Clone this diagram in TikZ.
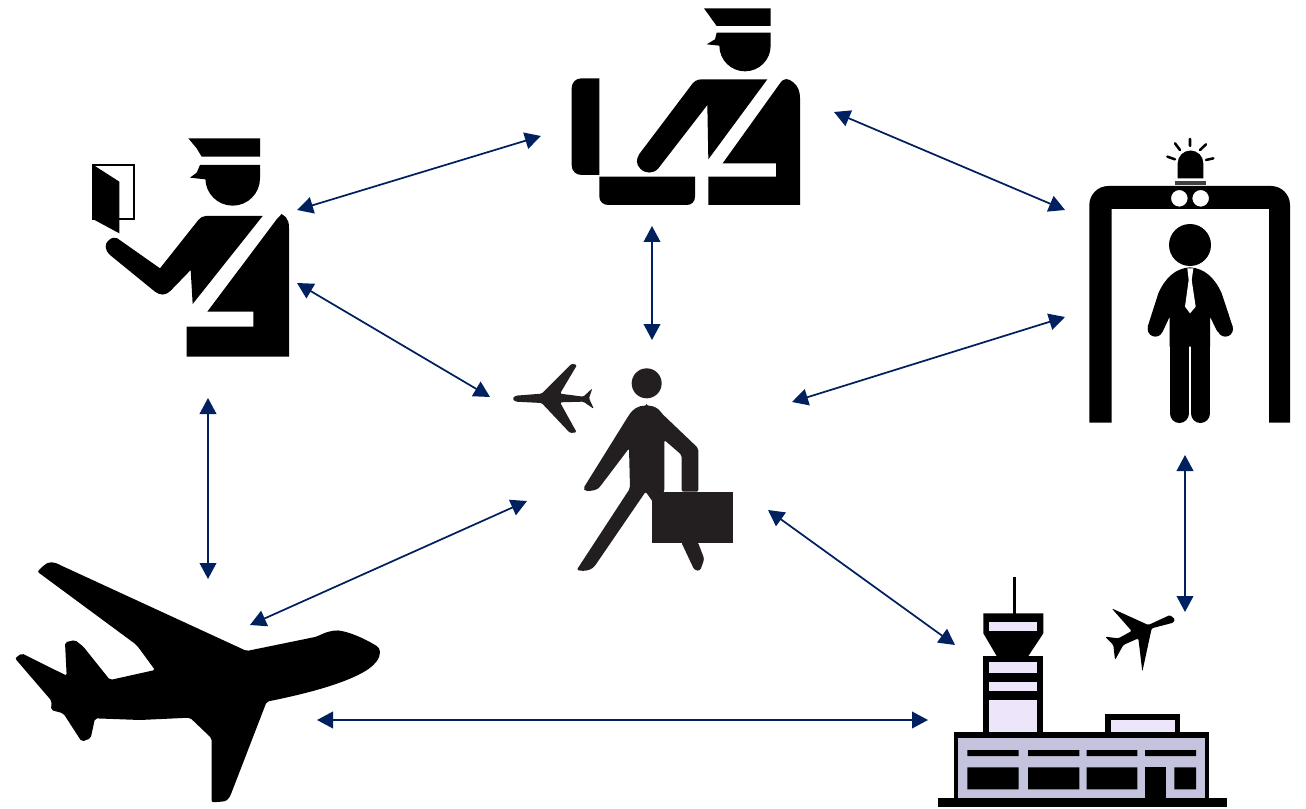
\documentclass[tikz,border=0pt]{standalone}
\usetikzlibrary{arrows.meta}
\definecolor{arrowblue}{HTML}{002060}
\definecolor{towerlight}{HTML}{EDE6FB}
\definecolor{hall}{HTML}{C3C3DD}
\definecolor{walker}{HTML}{231F20}
\tikzset{
  link/.style={arrowblue,line width=1.3pt,{Triangle[length=12pt,width=12.5pt]}-{Triangle[length=12pt,width=12.5pt]}},
  zoomed/.style={x=.25pt,y=-.25pt},
  ray/.style={draw=black,line width=1.9pt,line cap=round},
  limb/.style={draw=black,line cap=round,line join=round,line width=#1},
}
\begin{document}
\begin{tikzpicture}[x=.75pt,y=-.75pt]
\useasboundingbox (0,0) rectangle (1306,809);
% ---- officer with passport
\begin{scope}[shift={(80,130)},zoomed]
  \fill[black] (325,25)--(540,25)--(540,80)--(365,80)--(350,55)--cycle;
  \fill[black] (360,105)--(540,105)--(540,145) arc[start angle=0,end angle=-180,radius=82,y radius=-82] --(376,148)--(330,143)--(350,128)--cycle;
  \draw[black,line width=1.3pt,fill=white] (40,105) rectangle (163,267);
  \fill[black] (40,105)--(118,155)--(118,310)--(40,268)--cycle;
  \fill[black] (112,325)--(240,415)--(355,270) .. controls (362,262) and (368,258) .. (378,258)--(548,258)--(338,522)--(332,420)--(272,482) .. controls (258,497) and (240,497) .. (225,485)--(90,375) .. controls (72,358) and (75,340) .. (85,332) .. controls (95,322) and (105,321) .. (112,325)--cycle;
  \fill[black] (590,268)--(605,252)--(618,262) .. controls (625,270) and (627,280) .. (627,295)--(627,680)--(320,680)--(320,590)--(520,590)--(520,545)--(382,545)--cycle;
\end{scope}
% ---- officer at the desk
\begin{scope}[shift={(560,0)},zoomed]
  \fill[black] (432,25)--(632,25)--(632,78)--(470,78)--cycle;
  \fill[black] (470,98)--(632,98)--(632,137) arc[start angle=0,end angle=-180,radius=77,y radius=-77] --(478,137)--(440,133)--(465,118)--cycle;
  \fill[black] (118,235)--(65,235) .. controls (47,235) and (35,247) .. (35,265)--(35,495) .. controls (35,513) and (47,525) .. (65,525)--(118,525)--cycle;
  \fill[black] (118,530)--(405,530)--(405,590) .. controls (405,605) and (395,615) .. (380,615)--(145,615) .. controls (130,615) and (118,605) .. (118,590)--cycle;
  \fill[black] (392,258) .. controls (400,245) and (410,238) .. (425,238)--(622,238)--(445,478)--(442,315)--(295,505) .. controls (280,522) and (255,522) .. (240,505) .. controls (228,492) and (228,478) .. (238,462)--cycle;
  \fill[black] (660,250) .. controls (672,232) and (685,235) .. (700,247) .. controls (715,260) and (720,275) .. (720,295)--(720,615)--(445,615)--(445,530)--(648,530)--(648,490)--(488,490)--cycle;
\end{scope}
% ---- security scanner
\begin{scope}[shift={(1080,130)},zoomed]
  \fill[black,even odd rule] (28,878)--(28,225) arc[start angle=180,end angle=90,radius=57,y radius=-57]--(573,168) arc[start angle=90,end angle=0,radius=57,y radius=-57]--(630,878)--(567,878)--(567,237)--(95,237)--(95,878)--cycle
    (298,205) circle[radius=25] (362,205) circle[radius=25];
  \fill[black] (293,145)--(293,100) arc[start angle=180,end angle=0,radius=38.5,y radius=-38.5]--(370,145)--cycle;
  \fill[black!75] (285,152) rectangle (378,166);
  \draw[ray] (330,27)--(330,48) (285,40)--(300,60) (378,43)--(360,60) (262,80)--(285,88) (400,85)--(378,90);
  \fill[black] (330,345) circle[radius=63];
  \fill[black] (330,412) .. controls (285,415) and (255,445) .. (235,490)--(203,590)--(248,605)--(269,560)--(269,650)--(390,650)--(390,560)--(412,605)--(458,590)--(425,490) .. controls (405,445) and (375,415) .. (330,412)--cycle;
  \fill[black] (226,597) circle[radius=23] (436,597) circle[radius=23];
  \draw[limb=14.5pt] (298,640)--(298,850);
  \draw[limb=14.5pt] (361,640)--(361,850);
  \fill[white] (322,415)--(340,415)--(335,450)--(347,530)--(330,550)--(315,530)--(326,450)--cycle;
\end{scope}
% ---- traveller
\begin{scope}[shift={(505,355)},zoomed]
  \fill[walker] (425,85) circle[radius=45];
  \fill[walker,rounded corners=1.5pt] (425,152) .. controls (400,152) and (385,162) .. (372,180)--(235,400)--(240,408) .. controls (260,408) and (275,405) .. (285,395)--(372,280)--(375,400)--(215,645) .. controls (240,650) and (255,645) .. (268,635)--(422,410)--(450,450)--(478,410)--(478,255)--(530,300)--(530,410)--(580,410)--(580,280)--(470,175) .. controls (460,160) and (445,152) .. (425,152)--cycle;
  \fill[walker] (442,412) rectangle (685,565);
  \fill[walker,rounded corners=2pt] (528,560)--(568,645)--(585,648)--(598,612)--(578,560)--cycle;
  \fill[walker,rounded corners=1pt] (32,122)--(110,116)--(200,26)--(216,30)--(165,116)--(235,125)--(262,100)--(252,130)--(267,162)--(235,140)--(165,142)--(215,232)--(195,234)--(110,144)--(32,140)--(22,131)--cycle;
\end{scope}
% ---- large airliner
\begin{scope}[shift={(0,555)},zoomed]
  \fill[black,rounded corners=1.5pt] (112,50)--(135,28) .. controls (150,20) and (165,22) .. (180,30)--(740,288)--(950,245) .. controls (975,232) and (1000,225) .. (1020,227) .. controls (1060,235) and (1100,255) .. (1125,270) .. controls (1142,280) and (1145,300) .. (1125,325) .. controls (1090,360) and (1000,400) .. (800,440)--(695,712) .. controls (688,730) and (680,738) .. (665,740)--(635,742)--(635,550)--(570,488)--(420,495)--(285,490)--(272,550)--(245,560)--(190,475)--(153,465)--(155,438)--(45,310)--(65,295)--(200,362)--(195,262)--(225,255)--(250,275)--(330,375)--(465,345)--(410,270)--cycle;
\end{scope}
% ---- terminal
\begin{scope}[shift={(930,570)},zoomed]
  \fill[black] (248,22) rectangle (258,132);
  \fill[black] (160,130)--(340,130)--(340,190)--(295,258)--(200,258)--(160,190)--cycle;
  \fill[towerlight] (178,155) rectangle (322,182);
  \fill[black] (160,258) rectangle (340,490);
  \fill[towerlight] (178,277) rectangle (322,310);
  \fill[towerlight] (178,337) rectangle (322,363);
  \fill[towerlight] (178,390) rectangle (322,485);
  \fill[black] (525,432) rectangle (750,490);
  \fill[towerlight] (542,450) rectangle (735,485);
  \fill[black] (72,485) rectangle (838,692);
  \fill[hall] (85,505) rectangle (826,688);
  \fill[black] (112,540) rectangle (266,558) (294,540) rectangle (448,558) (470,540) rectangle (622,558) (645,540) rectangle (798,558);
  \fill[black] (112,592) rectangle (266,658) (294,592) rectangle (448,658) (470,592) rectangle (622,658) (733,592) rectangle (798,658);
  \fill[black] (645,592) rectangle (708,692);
  \fill[black] (25,685) rectangle (890,712);
  \fill[black,rounded corners=1pt] (735,148)--(720,135)--(655,165)--(545,115)--(605,183)--(565,205)--(525,200)--(550,225)--(555,270)--(580,225)--(625,205)--(637,305)--(665,175)--(730,158)--cycle;
\end{scope}
% ---- connector ends
\coordinate (passA) at (297,210); \coordinate (deskA) at (541,136);
\coordinate (deskB) at (834,112); \coordinate (scanA) at (1065,210);
\coordinate (deskC) at (652,226); \coordinate (walkA) at (652,340);
\coordinate (passB) at (297,283); \coordinate (walkB) at (490,397);
\coordinate (scanB) at (1065,317); \coordinate (walkC) at (792,402);
\coordinate (passC) at (208,398); \coordinate (planeA) at (208,579);
\coordinate (walkD) at (527,501); \coordinate (planeB) at (250,625);
\coordinate (walkE) at (768,510); \coordinate (termA) at (955,645);
\coordinate (scanC) at (1185,455); \coordinate (termB) at (1185,612);
\coordinate (planeC) at (317,720); \coordinate (termC) at (928,720);
\foreach \a/\b in {passA/deskA,deskB/scanA,deskC/walkA,passB/walkB,scanB/walkC,passC/planeA,walkD/planeB,walkE/termA,scanC/termB,planeC/termC}
  \draw[link] (\a) -- (\b);
\end{tikzpicture}
\end{document}
